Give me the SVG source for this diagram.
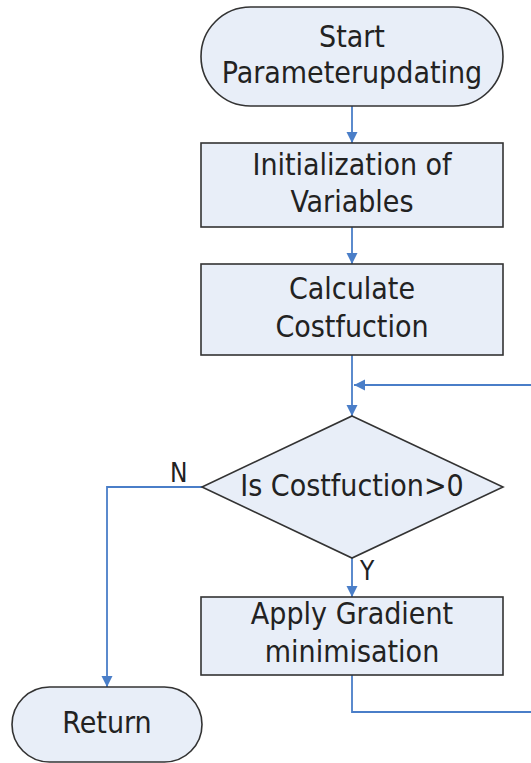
<svg xmlns="http://www.w3.org/2000/svg" width="531" height="763" viewBox="0 0 531 763">
<style>
.n{fill:#E8EEF8;stroke:#333;stroke-width:1.6}
.t{font-family:"DejaVu Sans Condensed","DejaVu Sans",sans-serif;font-stretch:condensed;font-size:30px;fill:#222;text-anchor:middle}
.l{font-family:"DejaVu Sans Condensed","DejaVu Sans",sans-serif;font-stretch:condensed;font-size:26px;fill:#222}
.c{fill:none;stroke:#4A7EC8;stroke-width:1.8}
</style>
<defs>
<marker id="a" markerWidth="11" markerHeight="12" refX="12" refY="6" orient="auto" markerUnits="userSpaceOnUse" viewBox="0 0 12 12">
<path d="M0,0 L12,6 L0,12 z" fill="#4A7EC8"/>
</marker>
</defs>
<g id="connectors">
<path class="c" d="M352,106 V143" marker-end="url(#a)"/>
<path class="c" d="M352,227 V264" marker-end="url(#a)"/>
<path class="c" d="M352,355 V416" marker-end="url(#a)"/>
<path class="c" d="M531,385 H354" marker-end="url(#a)"/>
<path class="c" d="M352,558 V597" marker-end="url(#a)"/>
<path class="c" d="M202,487 H107 V687" marker-end="url(#a)"/>
<path class="c" d="M352,675 V712 H531"/>
<text class="l" x="170" y="482">N</text>
<text class="l" x="360" y="580">Y</text>
</g>
<g id="start">
<rect class="n" x="201" y="7" width="302" height="99" rx="49.5"/>
<text class="t" x="352" y="47">Start</text>
<text class="t" x="352" y="83">Parameterupdating</text>
</g>
<g id="init">
<rect class="n" x="201" y="143" width="302" height="84"/>
<text class="t" x="352" y="175">Initialization of</text>
<text class="t" x="352" y="212">Variables</text>
</g>
<g id="calc">
<rect class="n" x="201" y="264" width="302" height="91"/>
<text class="t" x="352" y="299">Calculate</text>
<text class="t" x="352" y="337">Costfuction</text>
</g>
<g id="decision">
<polygon class="n" points="352,416 503,487 352,558 202,487"/>
<text class="t" x="352" y="496">Is Costfuction&gt;0</text>
</g>
<g id="apply">
<rect class="n" x="201" y="597" width="302" height="78"/>
<text class="t" x="352" y="624">Apply Gradient</text>
<text class="t" x="352" y="662">minimisation</text>
</g>
<g id="return">
<rect class="n" x="12" y="687" width="190" height="75" rx="37.5"/>
<text class="t" x="107" y="733">Return</text>
</g>
</svg>
